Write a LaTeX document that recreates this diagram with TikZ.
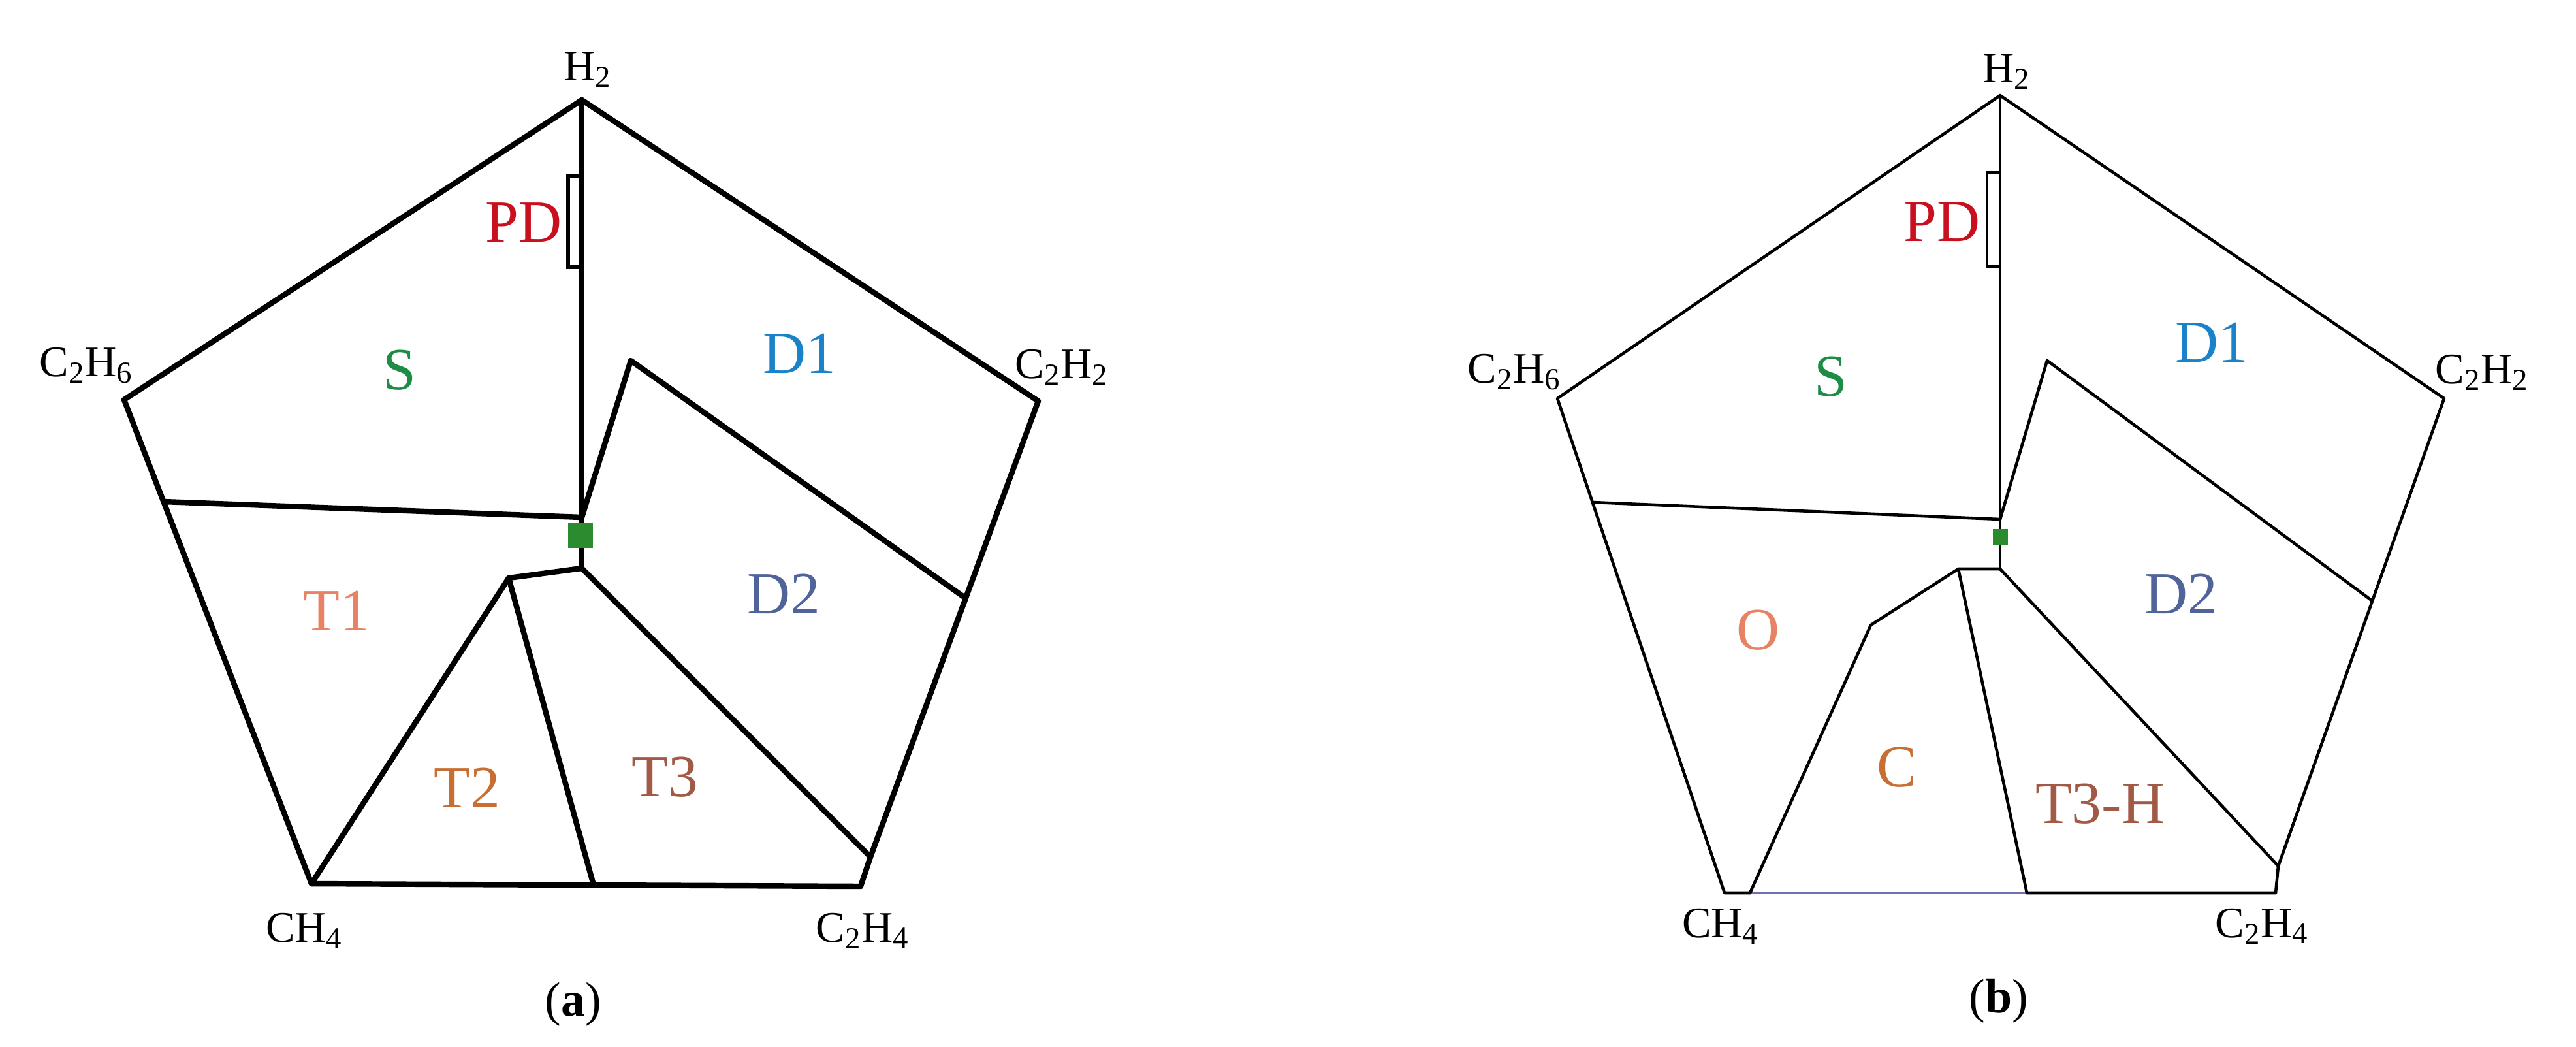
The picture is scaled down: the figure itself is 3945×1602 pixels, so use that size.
\documentclass[tikz,border=0pt]{standalone}
\usepackage{fontspec}
\setmainfont{Liberation Serif}
\definecolor{cPD}{HTML}{C8101E}
\definecolor{cS}{HTML}{1E8C46}
\definecolor{cDone}{HTML}{1A82C8}
\definecolor{cTone}{HTML}{E88264}
\definecolor{cDtwo}{HTML}{50649A}
\definecolor{cTtwo}{HTML}{C86E32}
\definecolor{cTthree}{HTML}{A05A46}
\definecolor{sqgreen}{HTML}{2A8C2E}
\definecolor{bluebase}{HTML}{7070B0}
\tikzset{
  edgeA/.style={line width=2.4pt, line join=round, line cap=round},
  edgeB/.style={line width=1.3pt, line join=round, line cap=round},
  vlab/.style={font=\fontsize{19}{22}\selectfont, inner sep=0pt, anchor=center},
  rlab/.style={font=\fontsize{26}{30}\selectfont, inner sep=0pt, anchor=center},
  plab/.style={font=\fontsize{21}{25}\selectfont, inner sep=0pt, anchor=center},
}
\begin{document}
\begin{tikzpicture}[x=0.01cm,y=-0.01cm]
\useasboundingbox (0,0) rectangle (3945,1602);

% ---------------- panel (a) ----------------
\coordinate (aH2) at (891,153);
\coordinate (aC2H6) at (190,612);
\coordinate (aC2H2) at (1590,614);
\coordinate (aCH4) at (477,1353);
\coordinate (aC2H4) at (1318,1357);
\coordinate (aR) at (1333,1312);
\coordinate (aL) at (250,768);
\coordinate (aCt) at (891,792);
\coordinate (aCb) at (891,870);
\coordinate (aT2) at (779,885);
\coordinate (aB) at (909,1355);
\coordinate (aAp) at (966,552);
\coordinate (aRe) at (1479,916);

\draw[edgeA] (aH2) -- (aC2H2) -- (aR) -- (aC2H4) -- (aCH4) -- (aC2H6) -- cycle;
\draw[edgeA] (aH2) -- (aCb);
\draw[edgeA] (aL) -- (aCt);
\draw[edgeA] (aCt) -- (aAp) -- (aRe);
\draw[edgeA] (aCb) -- (aT2) -- (aCH4);
\draw[edgeA] (aT2) -- (aB);
\draw[edgeA] (aCb) -- (aR);
\draw[line width=1.6pt] (870,269) rectangle (891,409);
\fill[sqgreen] (870,801) rectangle (908,839);

\node[vlab] (laH2) at (900,107) {H\textsubscript{2}};
\node[vlab] (laC2H6) at (132,560) {C\textsubscript{2}H\textsubscript{6}};
\node[vlab] (laC2H2) at (1626,562) {C\textsubscript{2}H\textsubscript{2}};
\node[vlab] (laCH4) at (466,1425) {CH\textsubscript{4}};
\node[vlab] (laC2H4) at (1321,1425) {C\textsubscript{2}H\textsubscript{4}};
\node[plab] (lacap) at (878,1538) {(\textbf{a})};

\node[rlab, text=cPD] (aPD) at (802,341) {PD};
\node[rlab, text=cS] (aS) at (612,567) {S};
\node[rlab, text=cDone] (aD1) at (1224,541) {D1};
\node[rlab, text=cTone] (aT1l) at (515,935) {T1};
\node[rlab, text=cDtwo] (aD2) at (1200,909) {D2};
\node[rlab, text=cTtwo] (aT2l) at (715,1206) {T2};
\node[rlab, text=cTthree] (aT3l) at (1018,1190) {T3};

% ---------------- panel (b) ----------------
\coordinate (bH2) at (3063,146);
\coordinate (bC2H6) at (2385,610);
\coordinate (bC2H2) at (3743,610);
\coordinate (bCH4) at (2641,1367);
\coordinate (bC2H4) at (3485,1367);
\coordinate (bR) at (3489,1326);
\coordinate (bL) at (2439,769);
\coordinate (bCt) at (3063,795);
\coordinate (bCb) at (3063,871);
\coordinate (bO) at (2999,871);
\coordinate (bK) at (2865,957);
\coordinate (bOb) at (2680,1367);
\coordinate (bB) at (3104,1367);
\coordinate (bAp) at (3135,552);
\coordinate (bRe) at (3633,920);

\draw[edgeB] (bOb) -- (bCH4) -- (bC2H6) -- (bH2) -- (bC2H2) -- (bR) -- (bC2H4) -- (bB);
\draw[line width=1.2pt, bluebase] (bOb) -- (bB);
\draw[edgeB] (bH2) -- (bCb);
\draw[edgeB] (bL) -- (bCt);
\draw[edgeB] (bCt) -- (bAp) -- (bRe);
\draw[edgeB] (bCb) -- (bO) -- (bK) -- (bOb);
\draw[edgeB] (bO) -- (bB);
\draw[edgeB] (bCb) -- (bR);
\draw[line width=1.2pt] (3043,264) rectangle (3063,408);
\fill[sqgreen] (3052,810) rectangle (3075,835);

\node[vlab] (lbH2) at (3073,110) {H\textsubscript{2}};
\node[vlab] (lbC2H6) at (2319,570) {C\textsubscript{2}H\textsubscript{6}};
\node[vlab] (lbC2H2) at (3801,570) {C\textsubscript{2}H\textsubscript{2}};
\node[vlab] (lbCH4) at (2635,1418) {CH\textsubscript{4}};
\node[vlab] (lbC2H4) at (3464,1418) {C\textsubscript{2}H\textsubscript{4}};
\node[plab] (lbcap) at (3061,1533) {(\textbf{b})};

\node[rlab, text=cPD] (bPD) at (2974,340) {PD};
\node[rlab, text=cS] (bS) at (2804,577) {S};
\node[rlab, text=cDone] (bD1) at (3387,524) {D1};
\node[rlab, text=cTone] (bOl) at (2692,965) {O};
\node[rlab, text=cDtwo] (bD2) at (3340,909) {D2};
\node[rlab, text=cTtwo] (bCl) at (2905,1175) {C};
\node[rlab, text=cTthree] (bT3H) at (3216,1231) {T3-H};
\end{tikzpicture}
\end{document}
